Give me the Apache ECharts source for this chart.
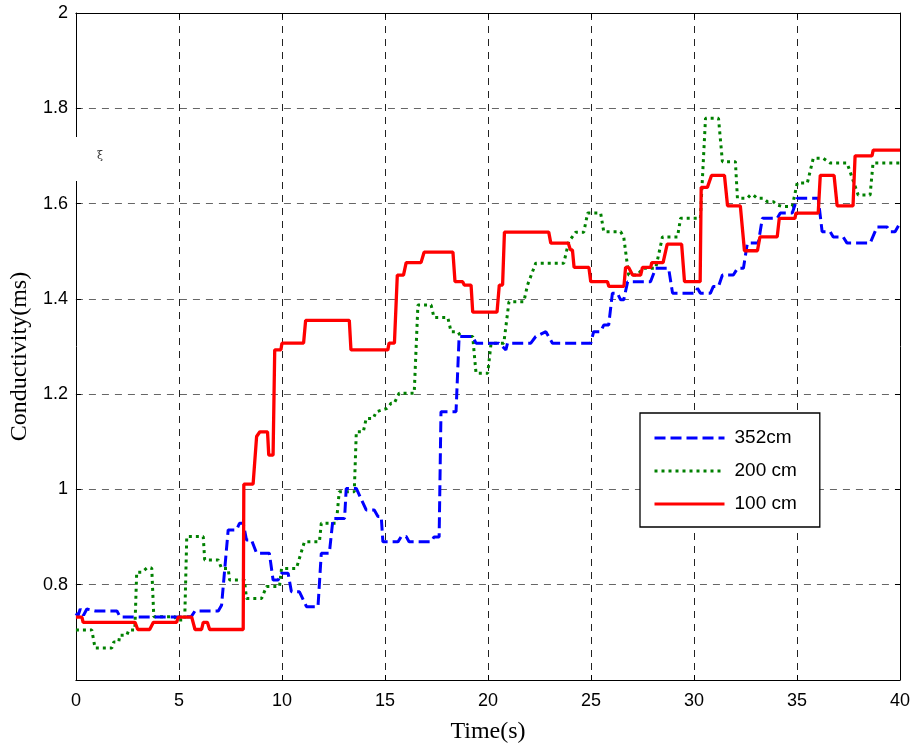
<!DOCTYPE html>
<html>
<head>
<meta charset="utf-8">
<script src="https://cdn.jsdelivr.net/npm/echarts@6/dist/echarts.min.js"></script>
<style>html,body{margin:0;padding:0;background:#fff}#c{width:917px;height:750px}</style>
</head>
<body>
<div id="c"></div>
<script>
// ---- data ----
const seriesNames = ['352cm', '200 cm', '100 cm'];
const xTicks = [0, 5, 10, 15, 20, 25, 30, 35, 40];
const yTicks = [0.8, 1, 1.2, 1.4, 1.6, 1.8, 2];

const t352 = [0,0.1,0.21,0.37,0.53,0.94,1.99,2.15,4.81,5.6,5.78,6.91,7.07,7.15,7.39,7.8,7.94,8.12,8.28,8.52,8.77,9.39,9.57,9.82,9.98,10.3,10.46,10.85,11.19,11.75,11.91,12.3,12.48,13.04,13.12,13.61,14.09,14.48,14.66,14.82,14.9,15.63,15.79,16.03,16.17,17.24,17.38,17.63,17.72,18.45,18.6,19.26,19.42,20.53,20.87,20.95,22.08,22.32,22.81,23.13,24.99,25.13,25.47,25.62,25.86,26.04,26.28,26.44,26.59,26.78,27.89,28.14,28.77,28.96,30.07,30.17,30.31,30.8,30.94,31.19,31.38,31.91,32.11,32.4,32.59,33.12,33.32,34.04,34.19,34.77,35.01,36.03,36.22,36.61,36.76,37.24,37.43,38.55,38.89,39.37,39.52,39.76,40];
const v352 = [0.74,0.735,0.749,0.736,0.749,0.745,0.745,0.732,0.732,0.733,0.745,0.745,0.757,0.754,0.915,0.915,0.929,0.929,0.894,0.894,0.866,0.866,0.81,0.81,0.824,0.824,0.785,0.785,0.754,0.754,0.866,0.866,0.939,0.939,1.002,1.002,0.957,0.957,0.943,0.943,0.89,0.89,0.901,0.901,0.89,0.89,0.9,0.9,1.163,1.163,1.321,1.321,1.307,1.307,1.293,1.307,1.307,1.321,1.331,1.307,1.307,1.331,1.331,1.345,1.345,1.412,1.412,1.398,1.398,1.436,1.436,1.464,1.464,1.412,1.412,1.422,1.412,1.412,1.426,1.426,1.45,1.45,1.464,1.464,1.517,1.517,1.569,1.569,1.58,1.58,1.611,1.611,1.541,1.541,1.53,1.53,1.517,1.517,1.551,1.551,1.541,1.541,1.559];

const t200 = [0,0.77,0.93,1.74,1.84,2.08,2.13,2.47,2.57,2.86,2.95,3.2,3.44,3.68,3.78,4.79,4.89,5.28,5.38,6.18,6.25,6.91,7.07,7.39,7.46,8.18,8.28,9.01,9.25,9.88,9.98,10.7,11.09,11.82,11.91,12.64,12.78,13.51,13.61,13.95,14.09,14.43,14.58,15.1,15.3,15.45,15.69,16.42,16.6,17.24,17.38,18.05,18.21,18.53,18.69,19.26,19.42,19.99,20.15,20.77,21.02,21.74,21.92,22.32,23.68,23.92,24.26,24.65,24.84,25.47,25.62,26.44,26.59,26.83,27.26,27.51,28.14,28.47,29.2,29.35,30.31,30.56,31.19,31.38,32.01,32.11,32.59,32.74,32.88,33.07,33.37,33.56,33.85,34.04,34.29,34.77,35.01,35.5,35.79,36.27,36.61,37.43,37.97,38.55,38.69,40];
const v200 = [0.705,0.705,0.667,0.667,0.68,0.68,0.694,0.694,0.705,0.705,0.826,0.826,0.835,0.835,0.733,0.733,0.726,0.726,0.901,0.901,0.852,0.852,0.834,0.834,0.81,0.81,0.771,0.771,0.796,0.796,0.834,0.834,0.89,0.89,0.929,0.929,0.995,0.995,1.121,1.121,1.149,1.149,1.163,1.17,1.181,1.181,1.202,1.202,1.387,1.387,1.361,1.361,1.331,1.331,1.321,1.321,1.244,1.244,1.307,1.307,1.394,1.394,1.429,1.475,1.475,1.52,1.54,1.54,1.58,1.58,1.541,1.541,1.53,1.45,1.45,1.464,1.464,1.53,1.53,1.569,1.569,1.779,1.779,1.688,1.688,1.611,1.611,1.618,1.618,1.611,1.611,1.604,1.604,1.597,1.594,1.594,1.643,1.643,1.695,1.695,1.685,1.685,1.618,1.618,1.685,1.685];

const t100 = [0,0.29,0.35,2.87,3.0,3.58,3.76,4.89,4.97,5.62,5.78,6.1,6.18,6.38,6.49,8.12,8.15,8.6,8.77,8.93,9.3,9.36,9.57,9.65,9.95,10.0,11.05,11.15,13.27,13.35,15.14,15.2,15.46,15.6,15.9,16.03,16.75,16.9,18.3,18.4,18.77,18.85,19.18,19.26,20.44,20.55,20.71,20.8,22.95,23.05,23.9,24.0,24.1,24.18,24.9,24.99,25.8,25.87,26.6,26.68,26.83,27.02,27.41,27.5,27.9,27.95,28.5,28.7,29.4,29.54,30.3,30.35,30.65,30.85,31.48,31.63,32.25,32.45,33.08,33.2,34.04,34.14,34.9,34.95,36.03,36.13,36.8,36.95,37.72,37.82,38.64,38.7,40];
const v100 = [0.732,0.732,0.721,0.721,0.706,0.706,0.721,0.721,0.732,0.732,0.706,0.706,0.721,0.721,0.706,0.706,1.011,1.011,1.111,1.121,1.121,1.072,1.072,1.293,1.293,1.307,1.307,1.355,1.355,1.293,1.293,1.307,1.307,1.45,1.45,1.476,1.476,1.498,1.498,1.436,1.436,1.429,1.429,1.372,1.372,1.429,1.429,1.54,1.54,1.517,1.517,1.503,1.503,1.466,1.466,1.436,1.436,1.426,1.426,1.466,1.466,1.45,1.45,1.466,1.466,1.476,1.476,1.515,1.515,1.436,1.436,1.634,1.634,1.659,1.659,1.595,1.595,1.501,1.501,1.53,1.53,1.569,1.569,1.58,1.58,1.659,1.659,1.595,1.595,1.70,1.70,1.712,1.712];

const zip = (t, v) => t.map((x, i) => [x, v[i]]);

const chart = echarts.init(document.getElementById('c'), null, {renderer: 'canvas'});
const tickFont = {fontFamily: 'Liberation Sans, Arial, sans-serif', fontSize: 18, color: '#000'};
const axisNameFont = {fontFamily: 'Liberation Serif, Times New Roman, serif', fontSize: 24, color: '#000'};

const option = {
  animation: false,
  backgroundColor: '#fff',
  grid: {left: 74, right: 17, top: 13, bottom: 70, containLabel: false},
  legend: {
    orient: 'vertical',
    left: 640, top: 413,
    padding: [15, 23, 13, 13],
    itemWidth: 70, itemHeight: 14, itemGap: 13,
    backgroundColor: '#fff',
    borderColor: '#000', borderWidth: 1.3,
    textStyle: {fontFamily: 'Liberation Sans, Arial, sans-serif', fontSize: 19, color: '#000', lineHeight: 20, padding: [0, 0, 0, 5]},
    lineStyle: {width: 3},
    itemStyle: {opacity: 0, color: 'rgba(0,0,0,0)', borderColor: 'rgba(0,0,0,0)', borderWidth: 0},
    data: seriesNames
  },
  xAxis: [{
    type: 'value', min: 0, max: 40, interval: 5,
    name: 'Time(s)', nameLocation: 'middle', nameGap: 40, nameTextStyle: axisNameFont,
    axisLine: {show: true, onZero: false, lineStyle: {color: '#000', width: 1}},
    axisTick: {show: true, inside: true, length: 5, lineStyle: {color: '#000'}},
    axisLabel: Object.assign({margin: 12, formatter: v => xTicks.includes(v) ? String(v) : ''}, tickFont),
    splitLine: {show: true, lineStyle: {color: '#222', type: [7, 6], width: 1}}
  }, {
    type: 'value', min: 0, max: 40, interval: 5, position: 'top',
    axisLine: {show: true, onZero: false, lineStyle: {color: '#000', width: 1}},
    axisTick: {show: true, inside: true, length: 5, lineStyle: {color: '#000'}},
    axisLabel: {show: false}, splitLine: {show: false}
  }],
  yAxis: [{
    type: 'value', min: 0.6, max: 2, interval: 0.2,
    name: 'Conductivity(ms)', nameLocation: 'middle', nameGap: 42,
    nameTextStyle: Object.assign({padding: [0, 20, 0, 0]}, axisNameFont),
    axisLine: {show: true, onZero: false, lineStyle: {color: '#000', width: 1}},
    axisTick: {show: true, inside: true, length: 5, lineStyle: {color: '#000'}},
    axisLabel: Object.assign({margin: 8, formatter: v => {
      const r = Math.round(v * 10) / 10;
      return yTicks.some(y => Math.abs(y - r) < 1e-6) ? String(r) : '';
    }}, tickFont),
    splitLine: {show: true, lineStyle: {color: '#666', type: [7, 6], width: 1}}
  }, {
    type: 'value', min: 0.6, max: 2, interval: 0.2, position: 'right',
    axisLine: {show: true, onZero: false, lineStyle: {color: '#000', width: 1}},
    axisTick: {show: true, inside: true, length: 5, lineStyle: {color: '#000'}},
    axisLabel: {show: false}, splitLine: {show: false}
  }],
  series: [
    {name: seriesNames[0], type: 'line', data: zip(t352, v352), showSymbol: false, symbol: 'none',
     lineStyle: {color: '#0000ff', width: 3, type: [11, 5]}, itemStyle: {color: '#0000ff'}, z: 3},
    {name: seriesNames[1], type: 'line', data: zip(t200, v200), showSymbol: false, symbol: 'none',
     lineStyle: {color: '#008000', width: 3, type: [3, 4]}, itemStyle: {color: '#008000'}, z: 2},
    {name: seriesNames[2], type: 'line', data: zip(t100, v100), showSymbol: false, symbol: 'none',
     lineStyle: {color: '#ff0000', width: 3.3}, itemStyle: {color: '#ff0000'}, z: 4}
  ],
  graphic: [
    {type: 'rect', left: 70, top: 137, shape: {width: 8, height: 44}, style: {fill: '#fff'}, z: 100},
    {type: 'text', left: 97, top: 151, style: {text: 'ξ', fontSize: 11, fill: '#333', fontFamily: 'DejaVu Serif'}, z: 100}
  ]
};
chart.setOption(option);
</script>
</body>
</html>
